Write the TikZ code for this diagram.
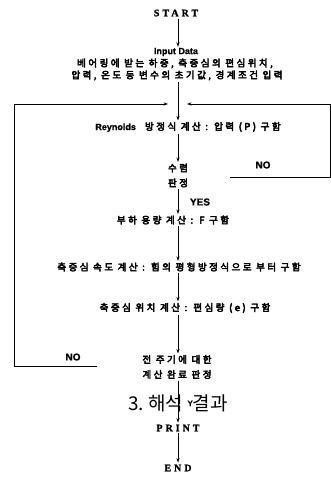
\documentclass[tikz,border=0pt]{standalone}
\usepackage{fontspec}
\usetikzlibrary{arrows.meta}
\newfontfamily\krb{Noto Sans CJK KR}[LetterSpace=26,FakeBold=4.5]
\newfontfamily\krl{Noto Sans CJK KR}
\newfontfamily\serl{Liberation Serif}[LetterSpace=30,FakeBold=1.5]
\newfontfamily\hel{Liberation Sans}[FakeBold=1]
\tikzset{
  kt/.style={font=\krb\fontsize{9.5}{15}\selectfont, inner sep=1.5pt, align=center},
  lt/.style={font=\hel\bfseries\fontsize{9}{11}\selectfont, inner sep=1pt},
  term/.style={font=\serl\bfseries\fontsize{10}{12}\selectfont, inner sep=2pt},
  lbl/.style={font=\hel\bfseries\fontsize{10}{12}\selectfont, inner sep=0pt},
  arr/.style={-{Stealth[length=4.5pt,width=3.2pt]}, line width=0.8pt},
  ln/.style={line width=0.8pt}
}
\begin{document}
\begin{tikzpicture}[x=1pt,y=-1pt]
\useasboundingbox (0,0) rectangle (331,480);
\coordinate (ax) at (178,0);
% nodes
\node[term] (start) at (176,13) {START};
\node[lt] (indata) at (176,52) {Input Data};
\node[kt] (in1) at (175,63.5) {베어링에 받는 하중, 축중심의 편심위치,};
\node[kt] (in2) at (177,75.5) {압력, 온도 등 변수의 초기값, 경계조건 입력};
\node[kt] (reyn) at (188,127) {{\hel\bfseries\fontsize{9}{11}\selectfont Reynolds}\ \ 방정식 계산 : 압력 (P) 구함};
\node[kt] (conv) at (178,175.5) {수렴\\판정};
\node[lbl] (no1) at (263,165) {NO};
\node[lbl] (yes) at (200,202) {YES};
\node[kt] (load) at (173,220) {부하 용량 계산 : F 구함};
\node[kt] (vel) at (179,267) {축중심 속도 계산 : 힘의 평형방정식으로 부터 구함};
\node[kt] (pos) at (185,308) {축중심 위치 계산 : 편심량 (e) 구함};
\node[kt] (done) at (177,367) {전 주기에 대한\\계산 완료 판정};
\node[lbl] (no2) at (73,357) {NO};
\node[term] (print) at (178,428) {PRINT};
\node[term] (end) at (178,468) {END};
% loop coordinates
\coordinate (ltip) at (168,104);
\coordinate (rtip) at (187,104);
\coordinate (lb1) at (97,366);
\coordinate (lb2) at (14,366);
\coordinate (lt) at (14,104);
\coordinate (rb1) at (230,177);
\coordinate (rb2) at (330.6,177);
\coordinate (rt) at (330.6,104);
% connectors
\draw[arr] (start.south -| ax) -- (indata.north -| ax);
\draw[arr] (in2.south -| ax) -- (reyn.north -| ax);
\draw[arr] (reyn.south -| ax) -- (conv.north -| ax);
\draw[arr] (conv.south -| ax) -- (load.north -| ax);
\draw[arr] (load.south -| ax) -- (vel.north -| ax);
\draw[arr] (vel.south -| ax) -- (pos.north -| ax);
\draw[arr] (pos.south -| ax) -- (done.north -| ax);
\draw[arr] (done.south -| ax) -- (print.north -| ax);
\draw[arr] (print.south -| ax) -- (end.north -| ax);
\draw[ln,-{Stealth[length=4.5pt,width=3.2pt]}] (lb1) -- (lb2) -- (lt) -- (ltip);
\draw[ln,-{Stealth[length=4.5pt,width=3.2pt]}] (rb1) -- (rb2) -- (rt) -- (rtip);
% result caption
\node[font=\krl\fontsize{19}{22}\selectfont, inner sep=0pt] (res) at (178,403) {3.\ 해석 \raisebox{4pt}{\hel\bfseries\fontsize{8}{9}\selectfont Y}결과};
\end{tikzpicture}
\end{document}
